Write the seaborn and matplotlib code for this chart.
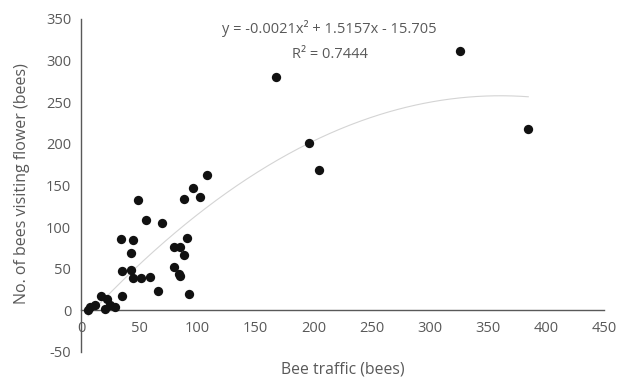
import numpy as np
import pandas as pd
import matplotlib
matplotlib.use("Agg")
import matplotlib.pyplot as plt
import seaborn as sns

# Data
bee_traffic = [6, 8, 12, 17, 22, 21, 25, 29, 35, 35, 34, 43, 43, 45, 45, 52, 59,
               49, 56, 70, 66, 80, 80, 85, 84, 85, 89, 91, 93, 89, 96, 102, 108,
               168, 196, 205, 326, 385]
bees_visiting = [0, 4, 7, 17, 14, 2, 7, 4, 17, 47, 86, 69, 49, 84, 39, 39, 40,
                 132, 108, 105, 23, 76, 52, 76, 44, 41, 67, 87, 20, 134, 147, 136, 163,
                 280, 201, 169, 311, 218]
trend_coef = [-0.0021, 1.5157, -15.705]
equation_text = "y = -0.0021x² + 1.5157x - 15.705"
r2_text = "R² = 0.7444"
x_ticks = [0, 50, 100, 150, 200, 250, 300, 350, 400, 450]
y_ticks = [-50, 0, 50, 100, 150, 200, 250, 300, 350]

df = pd.DataFrame({"traffic": bee_traffic, "visiting": bees_visiting})

sns.set_theme(style="white")
plt.rcParams["font.family"] = ["Open Sans", "DejaVu Sans"]

fig = plt.figure(figsize=(6.3, 3.8), dpi=100)
ax = fig.add_axes([0.1286, 0.0737, 0.8301, 0.8763])

# trendline
xs = np.linspace(min(bee_traffic), max(bee_traffic), 300)
ys = np.polyval(trend_coef, xs)
ax.plot(xs, ys, color="#d4d4d4", lw=0.8, zorder=1)

sns.scatterplot(data=df, x="traffic", y="visiting", ax=ax, s=45,
                color="#111111", edgecolor="#111111", linewidth=0, zorder=3)

ax.set_xlim(0, 450)
ax.set_ylim(-50, 350)
ax.set_xticks(x_ticks)
ax.set_yticks(y_ticks)
ax.set_xticklabels([str(v) for v in x_ticks])
ax.set_yticklabels([str(v) for v in y_ticks])

for side in ["top", "right"]:
    ax.spines[side].set_visible(False)
ax.spines["bottom"].set_position(("data", 0))
for side in ["left", "bottom"]:
    ax.spines[side].set_color("#595959")
    ax.spines[side].set_linewidth(1.0)

ax.tick_params(axis="both", length=0, labelsize=10.5, colors="#595959")
ax.tick_params(axis="x", pad=8)
ax.tick_params(axis="y", pad=7)

ax.set_xlabel("Bee traffic (bees)", fontsize=11.3, color="#595959")
ax.set_ylabel("No. of bees visiting flower (bees)", fontsize=11.5, color="#595959")
ax.xaxis.set_label_coords(0.5, -0.03)
ax.yaxis.set_label_coords(-0.098, 0.506)

ax.text(214, 339, equation_text, ha="center", va="center", fontsize=10.5, color="#595959")
ax.text(214, 307, r2_text, ha="center", va="center", fontsize=10.5, color="#595959")

ax.grid(False)
fig.savefig("out.png", dpi=100, facecolor="white")
